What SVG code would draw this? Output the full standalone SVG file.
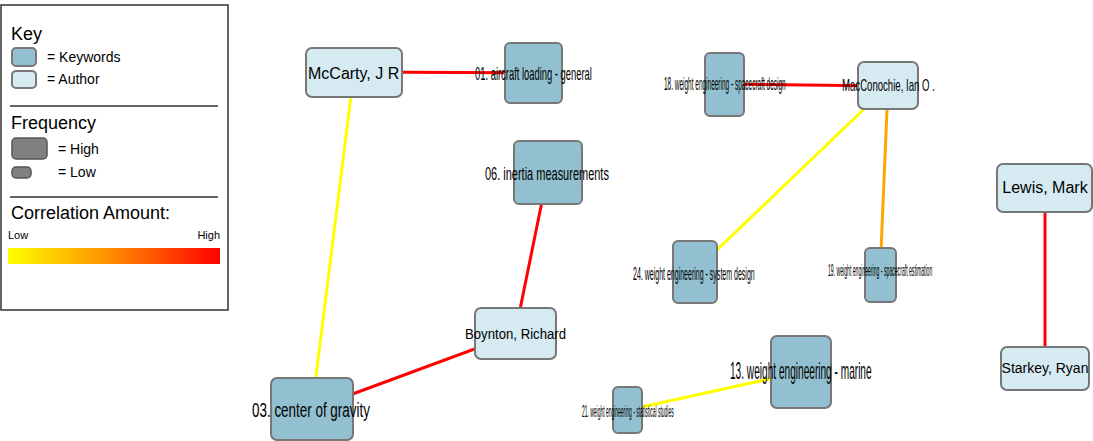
<svg xmlns="http://www.w3.org/2000/svg" width="1093" height="441" viewBox="0 0 1093 441">
<defs>
<linearGradient id="corr" x1="0" y1="0" x2="1" y2="0">
<stop offset="0" stop-color="#ffff00"/>
<stop offset="0.5" stop-color="#ff8800"/>
<stop offset="1" stop-color="#ff0000"/>
</linearGradient>
<style>
text{font-family:"Liberation Sans",Arial,sans-serif;fill:#000}
.kw{fill:#92c0d0;stroke:#777;stroke-width:2}
.au{fill:#d6eaf2;stroke:#777;stroke-width:2}
.edge{fill:none;stroke-width:3}
.sep{stroke:#333;stroke-width:1.5}
</style>
</defs>
<rect width="1093" height="441" fill="#fff"/>
<g id="legend">
<rect x="1" y="5" width="227" height="305" fill="#fff" stroke="#333" stroke-width="1.5"/>
<text x="11" y="40" font-size="18">Key</text>
<rect x="12" y="48" width="24" height="18" rx="4" class="kw"/>
<text x="47" y="62" font-size="14">= Keywords</text>
<rect x="12" y="71" width="24" height="17" rx="4" class="au"/>
<text x="47" y="84" font-size="14">= Author</text>
<line x1="10" y1="106" x2="218" y2="106" class="sep"/>
<text x="11" y="129" font-size="18">Frequency</text>
<rect x="12" y="138" width="35" height="21" rx="4" fill="#808080" stroke="#555" stroke-width="1.5"/>
<text x="58" y="154" font-size="14">= High</text>
<rect x="12" y="167" width="19" height="11" rx="4" fill="#808080" stroke="#555" stroke-width="1.5"/>
<text x="58" y="177" font-size="14">= Low</text>
<line x1="10" y1="197" x2="218" y2="197" class="sep"/>
<text x="11" y="219" font-size="18">Correlation Amount:</text>
<text x="8" y="239" font-size="11">Low</text>
<text x="220" y="239" font-size="11" text-anchor="end">High</text>
<rect x="8" y="248" width="212" height="16" fill="url(#corr)"/>
</g>
<g id="connectors">
<line x1="354" y1="72" x2="533" y2="73" class="edge" stroke="#ff0000"/>
<line x1="354" y1="72" x2="312" y2="408" class="edge" stroke="#ffff00"/>
<line x1="548" y1="172" x2="515" y2="334" class="edge" stroke="#ff0000"/>
<line x1="515" y1="334" x2="312" y2="409" class="edge" stroke="#ff0000"/>
<line x1="724" y1="84" x2="888" y2="86" class="edge" stroke="#ff0000"/>
<line x1="888" y1="86" x2="694" y2="272" class="edge" stroke="#ffff00"/>
<line x1="888" y1="86" x2="880" y2="275" class="edge" stroke="#ffa500"/>
<line x1="628" y1="410" x2="801" y2="372" class="edge" stroke="#ffff00"/>
<line x1="1045" y1="188" x2="1045" y2="368" class="edge" stroke="#ff0000"/>
</g>
<g id="n-mccarty">
<rect x="306" y="48" width="96" height="49" rx="6" class="au"/>
<text x="308" y="79" font-size="16">McCarty, J R</text>
</g>
<g id="n-01">
<rect x="505" y="43" width="57" height="60" rx="5" class="kw"/>
<text transform="translate(475,80) scale(0.522,1)" font-size="18">01. aircraft loading - general</text>
</g>
<g id="n-06">
<rect x="514" y="141" width="68" height="63" rx="5" class="kw"/>
<text transform="translate(485,180) scale(0.594,1)" font-size="18.5">06. inertia measurements</text>
</g>
<g id="n-boynton">
<rect x="475" y="308" width="81" height="51" rx="6" class="au"/>
<text transform="translate(465,339) scale(0.85,1)" font-size="15.5">Boynton, Richard</text>
</g>
<g id="n-03">
<rect x="271" y="378" width="82" height="62" rx="6" class="kw"/>
<text transform="translate(252,417) scale(0.64,1)" font-size="21">03. center of gravity</text>
</g>
<g id="n-18">
<rect x="705" y="53" width="39" height="63" rx="5" class="kw"/>
<text transform="translate(664,90) scale(0.36,1)" font-size="18">18. weight engineering - spacecraft design</text>
</g>
<g id="n-macconochie">
<rect x="858" y="62" width="60" height="47" rx="6" class="au"/>
<text transform="translate(842,91) scale(0.6,1)" font-size="16">MacConochie, Ian O .</text>
</g>
<g id="n-24">
<rect x="673" y="241" width="44" height="62" rx="5" class="kw"/>
<text transform="translate(633,280) scale(0.39,1)" font-size="18">24. weight engineering - system design</text>
</g>
<g id="n-19">
<rect x="865" y="248" width="31" height="54" rx="5" class="kw"/>
<text transform="translate(828,276) scale(0.32,1)" font-size="16">19. weight engineering - spacecraft estimation</text>
</g>
<g id="n-13">
<rect x="771" y="336" width="60" height="72" rx="6" class="kw"/>
<text transform="translate(730,379) scale(0.44,1)" font-size="23">13. weight engineering - marine</text>
</g>
<g id="n-21">
<rect x="613" y="387" width="29" height="46" rx="5" class="kw"/>
<text transform="translate(582,417) scale(0.31,1)" font-size="16">21. weight engineering - statistical studies</text>
</g>
<g id="n-lewis">
<rect x="997" y="164" width="95" height="48" rx="6" class="au"/>
<text x="1045" y="193" font-size="16" text-anchor="middle">Lewis, Mark</text>
</g>
<g id="n-starkey">
<rect x="1001" y="347" width="88" height="43" rx="6" class="au"/>
<text x="1045" y="373" font-size="14" text-anchor="middle">Starkey, Ryan</text>
</g>
</svg>
